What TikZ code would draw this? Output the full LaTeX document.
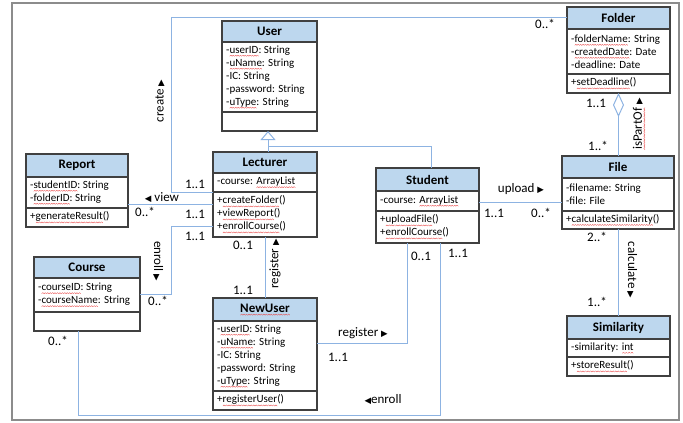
\documentclass[tikz,border=0pt]{standalone}
\usepackage{fontspec}
\setmainfont{Carlito}
\newfontfamily\symfnt{DejaVu Sans}
\usetikzlibrary{arrows.meta,calc}
\definecolor{hdr}{HTML}{BDD7EE}
\definecolor{connc}{HTML}{8DB3E2}
\definecolor{bord}{HTML}{404040}
\definecolor{framec}{HTML}{8C8C8C}
\definecolor{wavec}{RGB}{232,70,70}
\newsavebox\sqbox
\newcommand\zzcell{\hbox to 2.4pt{\rlap{\rotatebox{45}{\rule{1.6pt}{0.35pt}}}\hskip1.2pt\raisebox{1.1pt}{\rlap{\rotatebox{-45}{\rule{1.6pt}{0.35pt}}}}\hfil}}
\newcommand\sq[1]{\sbox\sqbox{#1}\leavevmode\rlap{\textcolor{wavec}{\lower3.2pt\hbox to\wd\sqbox{\xleaders\zzcell\hfil}}}#1}
\newcommand\arrR{{\symfnt\fontsize{8.5}{8.5}\selectfont ▶}}
\newcommand\arrL{{\symfnt\fontsize{8.5}{8.5}\selectfont ◀}}
% #1 name, #2 (x,y) top-left, #3 width, #4 header h, #5 attr h, #6 method h, #7 title, #8 attrs, #9 methods
\newcommand\umlclass[9]{%
  \path #2 coordinate (#1-tl);
  \fill[hdr] (#1-tl) rectangle ++(#3,#4);
  \draw[sepline] ($(#1-tl)+(0,#4)$) -- ++(#3,0);
  \draw[sepline] ($(#1-tl)+(0,#4+#5)$) -- ++(#3,0);
  \node[classbox,anchor=north west,minimum width=#3pt,minimum height={(#4+#5+#6)*1pt}] (#1) at (#1-tl) {};
  \node[ctitle] (#1-t) at ($(#1-tl)+(#3/2,#4/2)$) {#7};
  \node[cattr,anchor=west] (#1-a) at ($(#1-tl)+(4,#4+#5/2)$) {#8};
  \node[cattr,anchor=west] (#1-m) at ($(#1-tl)+(4,#4+#5+#6/2)$) {#9};
}
\begin{document}
\begin{tikzpicture}[x=1pt,y=-1pt,
  classbox/.style={draw=bord,line width=1.2pt,inner sep=0pt,outer sep=0pt},
  sepline/.style={draw=bord,line width=1.1pt},
  ctitle/.style={font=\bfseries\fontsize{13}{15}\selectfont,inner sep=0pt},
  cattr/.style={font=\fontsize{11}{13}\selectfont,align=left,inner sep=0pt},
  lbl/.style={font=\fontsize{13}{15}\selectfont,inner sep=0pt},
  conn/.style={draw=connc,line width=1pt}]
\useasboundingbox (0,0) rectangle (683,423);
\draw[framec,line width=1.6pt] (12,3) rectangle (679,420);

\umlclass{user}{(222,21)}{95}{21}{70}{19}{User}{-\sq{userID}: String\\-\sq{uName}: String\\-IC: String\\-password: String\\-\sq{uType}: String}{}
\umlclass{lecturer}{(213,152)}{104}{21}{19}{45}{Lecturer}{-course: \sq{ArrayList}}{+\sq{createFolder}()\\+\sq{viewReport}()\\+\sq{enrollCourse}()}
\umlclass{student}{(376,168)}{103}{23}{20}{32}{Student}{-course: \sq{ArrayList}}{+\sq{uploadFile}()\\+\sq{enrollCourse}()}
\umlclass{file}{(562,156)}{112}{22}{33}{18}{File}{-filename: String\\-file: File}{+\sq{calculateSimilarity}()}
\umlclass{folder}{(567,7)}{103}{22}{45}{19}{Folder}{-\sq{folderName}: String\\-\sq{createdDate}: Date\\-deadline: Date}{+\sq{setDeadline}()}
\umlclass{report}{(26,154)}{102}{23}{31}{19}{Report}{-\sq{studentID}: String\\-\sq{folderID}: String}{+\sq{generateResult}()}
\umlclass{course}{(34,257)}{106}{21}{34}{19}{Course}{-\sq{courseID}: String\\-\sq{courseName}: String}{}
\umlclass{newuser}{(213,298)}{104}{23}{70}{19}{\sq{NewUser}}{-\sq{userID}: String\\-\sq{uName}: String\\-IC: String\\-password: String\\-\sq{uType}: String}{+\sq{registerUser}()}
\umlclass{similarity}{(567,316)}{103}{23}{18}{19}{Similarity}{-similarity: \sq{int}}{+\sq{storeResult}()}

% connectors
\draw[conn] (folder.north west |- 0,17) -- (171,17) -- (171,192) -- (lecturer.west |- 0,192);
\draw[conn] (report.east |- 0,204) -- (lecturer.west |- 0,204);
\draw[conn] (lecturer.west |- 0,226) -- (171,226) -- (171,294) -- (course.east |- 0,294);
\draw[conn] (lecturer.south) -- (newuser.north);
\draw[conn] (newuser.east |- 0,343) -- (407,343) -- (407,0 |- student.south);
\draw[conn] (440,0 |- student.south) -- (440,415) -- (78,415) -- (78,0 |- course.south);
\draw[conn] (student.east |- 0,202) -- (file.west |- 0,202);
\draw[conn,{Diamond[open,length=24pt,width=11pt]}-] (folder.south) -- (folder.south |- file.north);
\draw[conn] (file.south) -- (file.south |- similarity.north);
\draw[conn,-{Triangle[open,length=9pt,width=15pt]}] (268,0 |- lecturer.north) -- (268,0 |- user.south);
\draw[conn] (431,0 |- student.north) |- (268,146);

% labels
\node[lbl] (c1) at (545,24) {0..*};
\node[lbl,rotate=90] (c2) at (160,101) {create \arrR};
\node[lbl] (c3) at (195,184) {1..1};
\node[lbl] (v1) at (162,198) {\arrL\ view};
\node[lbl] (v2) at (145,212) {0..*};
\node[lbl] (v3) at (195,214) {1..1};
\node[lbl] (e1) at (195,236) {1..1};
\node[lbl,rotate=-90] (e2) at (158,261) {enroll \arrR};
\node[lbl] (e3) at (158,301) {0..*};
\node[lbl] (e4) at (58,341) {0..*};
\node[lbl] (r1) at (243,245) {0..1};
\node[lbl] (r2) at (243,290) {1..1};
\node[lbl,rotate=90] (r3) at (275,264) {register \arrR};
\node[lbl] (r4) at (421,256) {0..1};
\node[lbl] (r5) at (363,333) {register \arrR};
\node[lbl] (r6) at (338,357) {1..1};
\node[lbl] (e5) at (458,253) {1..1};
\node[lbl] (e6) at (383,400) {\arrL enroll};
\node[lbl] (u1) at (521,189) {upload \arrR};
\node[lbl] (u2) at (494,213) {1..1};
\node[lbl] (u3) at (541,213) {0..*};
\node[lbl] (a1) at (596,103) {1..1};
\node[lbl] (a2) at (598,146) {1..*};
\node[lbl,rotate=90] (a3) at (639,124) {\sq{isPartOf} \arrR};
\node[lbl] (k1) at (597,237) {2..*};
\node[lbl,rotate=-90] (k2) at (632,270) {calculate \arrR};
\node[lbl] (k3) at (597,302) {1..*};
\end{tikzpicture}
\end{document}
